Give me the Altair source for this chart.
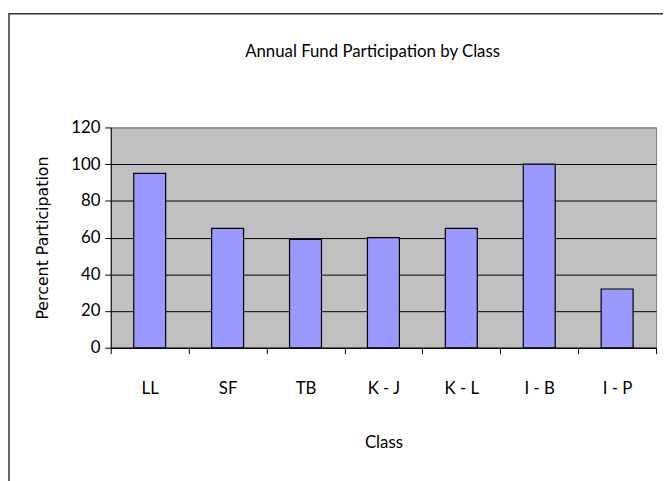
import altair as alt
import pandas as pd

# ---- data ----
classes = ["LL", "SF", "TB", "K - J", "K - L", "I - B", "I - P"]
participation = [95, 65, 59, 60, 65, 100, 32]
y_ticks = [0, 20, 40, 60, 80, 100, 120]
chart_title = "Annual Fund Participation by Class"

df = pd.DataFrame({"Class": classes, "Participation": participation})

W, H = 552, 223

x_enc = alt.X(
    "Class:N",
    sort=classes,
    scale=alt.Scale(paddingInner=0, paddingOuter=0),
    axis=alt.Axis(
        title="Class",
        labelAngle=0,
        tickBand="extent",
        tickSize=6,
        tickColor="black",
        domainColor="black",
        labelFont="Lato",
        labelFontSize=17,
        labelColor="black",
        labelPadding=27,
        titleFont="Lato",
        titleFontSize=17,
        titleFontWeight="normal",
        titleColor="black",
        titlePadding=39,
        grid=False,
    ),
)

y_enc = alt.Y(
    "Participation:Q",
    scale=alt.Scale(domain=[0, 120], nice=False),
    axis=alt.Axis(
        values=y_ticks,
        title="Percent Participation",
        tickSize=6,
        tickColor="black",
        domainColor="black",
        grid=True,
        gridColor=alt.condition("datum.value == 120", alt.value("#808080"), alt.value("black")),
        gridWidth=1,
        labelFont="Lato",
        labelFontSize=17,
        labelColor="black",
        labelPadding=5,
        titleFont="DejaVu Sans",
        titleFontSize=16,
        titleFontWeight="normal",
        titleColor="black",
        titlePadding=20,
    ),
)

bars = alt.Chart(df).mark_bar(
    fill="#9999FF", stroke="black", strokeWidth=1.2, width=alt.RelativeBandSize(0.41)
).encode(x=x_enc, y=y_enc)

one = pd.DataFrame({"k": [0]})

border = alt.Chart(one).mark_rect(
    filled=False, stroke="#333333", strokeWidth=1.5, clip=False
).encode(
    x=alt.value(-103), x2=alt.value(W + 100), y=alt.value(-115), y2=alt.value(H + 200)
)

title = alt.Chart(one).mark_text(
    text=chart_title, font="Lato", fontSize=17, color="black",
    align="center", baseline="middle", clip=False
).encode(x=alt.value(265), y=alt.value(-76))

chart = alt.layer(bars, border, title).properties(
    width=W,
    height=H,
    autosize=alt.AutoSizeParams(type="none"),
    padding={"left": 104, "top": 118, "right": 7, "bottom": 132},
).configure(background="white").configure_view(
    fill="#C0C0C0", stroke="#808080", strokeWidth=1
)

chart.save("out.html", embed_options={"renderer": "svg", "actions": False})
